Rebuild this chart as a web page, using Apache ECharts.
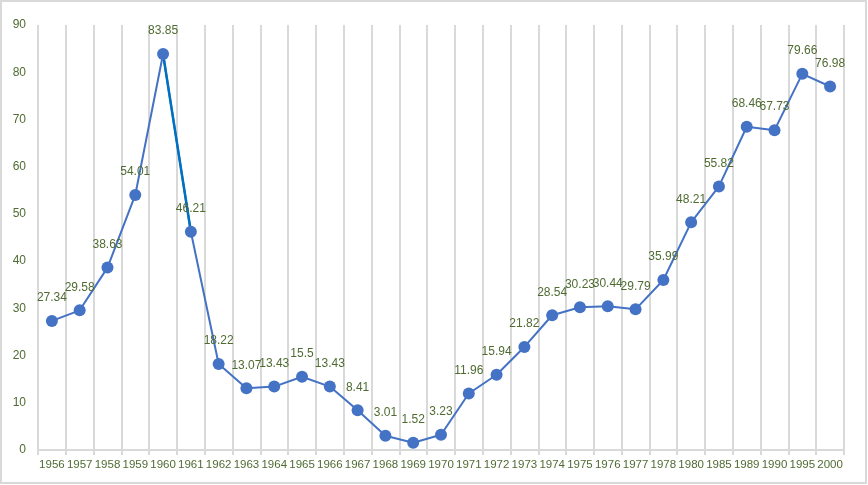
<!DOCTYPE html>
<html><head><meta charset="utf-8">
<script src="https://cdn.jsdelivr.net/npm/echarts@6/dist/echarts.min.js"></script>
<style>html,body{margin:0;padding:0;background:#fff}#c{width:868px;height:485px}</style>
</head><body><div id="c"></div>
<script>
const years = ['1956','1957','1958','1959','1960','1961','1962','1963','1964','1965','1966','1967','1968','1969','1970','1971','1972','1973','1974','1975','1976','1977','1978','1980','1985','1989','1990','1995','2000'];
const values = [27.34,29.58,38.63,54.01,83.85,46.21,18.22,13.07,13.43,15.5,13.43,8.41,3.01,1.52,3.23,11.96,15.94,21.82,28.54,30.23,30.44,29.79,35.99,48.21,55.82,68.46,67.73,79.66,76.98];
const yTicks = {min:0, max:90, interval:10};
const highlightYears = ['1960','1961'];

const hl = values.map((v,i)=> highlightYears.includes(years[i]) ? v : null);
const green = '#4f6b31';
const chart = echarts.init(document.getElementById('c'));
chart.setOption({
  animation:false,
  graphic:[{type:'rect',shape:{x:1,y:1,width:865,height:482},style:{fill:'none',stroke:'#d9d9d9',lineWidth:2}}],
  grid:{left:38,right:24,top:25,bottom:35,containLabel:false},
  xAxis:{type:'category',data:years,boundaryGap:true,
    axisLine:{lineStyle:{color:'#d9d9d9',width:2}},
    axisTick:{show:true,alignWithLabel:false,length:5,lineStyle:{color:'#d9d9d9',width:2}},
    axisLabel:{color:green,fontSize:11.5,margin:9,interval:0,fontFamily:'Liberation Sans'},
    splitLine:{show:true,interval:0,lineStyle:{color:'#d9d9d9',width:2}}},
  yAxis:{type:'value',min:yTicks.min,max:yTicks.max,interval:yTicks.interval,
    axisLine:{show:false},axisTick:{show:false},splitLine:{show:false},
    axisLabel:{color:green,fontSize:12,margin:12,fontFamily:'Liberation Sans'}},
  series:[
    {type:'line',data:values,symbol:'none',
      lineStyle:{color:'#4472C4',width:2},z:2,silent:true},
    {type:'line',data:hl,symbol:'none',connectNulls:false,
      lineStyle:{color:'#0070C0',width:2.5},z:3,silent:true},
    {type:'scatter',data:values,symbol:'circle',symbolSize:12,
      itemStyle:{color:'#4472C4',opacity:1},
      label:{show:true,position:'top',distance:11,color:green,opacity:1,fontSize:12,fontFamily:'Liberation Sans'},z:4}
  ]
});
</script></body></html>
